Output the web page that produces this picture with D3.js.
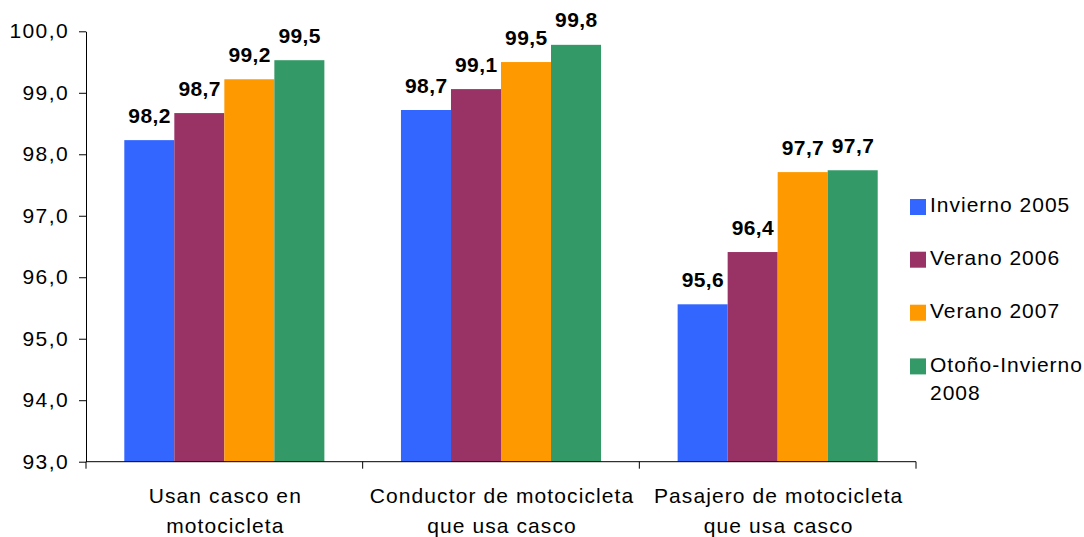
<!DOCTYPE html>
<html>
<head>
<meta charset="utf-8">
<script src="https://cdn.jsdelivr.net/npm/d3@7"></script>
<style>
  html, body { margin: 0; padding: 0; background: #fff; }
  svg { display: block; font-family: "Liberation Sans", Arial, sans-serif; }
</style>
</head>
<body>
<svg id="chart" width="1084" height="537"></svg>
<script>
// Categories (each label split into its two display lines)
const categories = ["usan", "conductor", "pasajero"];
const categoryLines = [
  ["Usan casco en", "motocicleta"],
  ["Conductor de motocicleta", "que usa casco"],
  ["Pasajero de motocicleta", "que usa casco"]
];

// Survey periods
const seriesNames = ["Invierno 2005", "Verano 2006", "Verano 2007", "Otoño-Invierno 2008"];
const legendLines = [["Invierno 2005"], ["Verano 2006"], ["Verano 2007"], ["Otoño-Invierno", "2008"]];
const seriesColors = ["#3366FF", "#993366", "#FF9900", "#339966"];

// Percentage of helmet use, one array per period (order follows categories)
const invierno2005 = [98.23, 98.72, 95.56];
const verano2006 = [98.67, 99.06, 96.41];
const verano2007 = [99.22, 99.50, 97.71];
const otonoInvierno2008 = [99.53, 99.78, 97.74];
const seriesValues = [invierno2005, verano2006, verano2007, otonoInvierno2008];

const yTicks = [93, 94, 95, 96, 97, 98, 99, 100];

const fmt = d => d.toFixed(1).replace(".", ",");

const svg = d3.select("#chart");

const y = d3.scaleLinear().domain([93, 100]).range([461.7, 31.3]);
const x = d3.scaleBand().domain(categories).range([86, 916]).paddingInner(0).paddingOuter(0);
const groupPad = 38.3;
const xInner = d3.scaleBand().domain(seriesNames)
  .range([groupPad, x.bandwidth() - groupPad]).padding(0);

// Bars
const groups = svg.append("g").selectAll("g")
  .data(categories)
  .join("g")
  .attr("transform", d => `translate(${x(d)},0)`);

groups.selectAll("rect")
  .data((c, i) => seriesNames.map((s, j) => ({ s, j, v: seriesValues[j][i] })))
  .join("rect")
  .attr("x", d => xInner(d.s))
  .attr("width", xInner.bandwidth())
  .attr("y", d => y(d.v))
  .attr("height", d => y(93) - y(d.v))
  .attr("fill", d => seriesColors[d.j]);

// Value labels
groups.selectAll("text.val")
  .data((c, i) => seriesNames.map((s, j) => ({ s, j, v: seriesValues[j][i] })))
  .join("text")
  .attr("class", "val")
  .attr("x", d => xInner(d.s) + xInner.bandwidth() / 2 + 0.3)
  .attr("y", d => y(d.v) - 17.5)
  .attr("text-anchor", "middle")
  .style("font-size", "21px")
  .style("font-weight", "bold")
  .style("letter-spacing", "0.4px")
  .attr("fill", "#000")
  .text(d => fmt(d.v));

// Y axis
const yAxis = svg.append("g")
  .attr("transform", "translate(86,0)")
  .call(d3.axisLeft(y).tickValues(yTicks).tickSize(7).tickSizeOuter(0).tickFormat(fmt));
yAxis.select(".domain").attr("stroke", "#000");
yAxis.selectAll(".tick line").attr("stroke", "#000");
yAxis.selectAll(".tick text")
  .attr("x", -17)
  .attr("dy", "0.3em")
  .style("font-size", "21px")
  .style("letter-spacing", "1.4px")
  .style("font-family", "'Liberation Sans', Arial, sans-serif")
  .attr("fill", "#000");

// X axis: baseline with ticks at the category boundaries
const xAxis = svg.append("g");
xAxis.append("line")
  .attr("x1", x.range()[0]).attr("x2", x.range()[1])
  .attr("y1", y(93)).attr("y2", y(93))
  .attr("stroke", "#000");
const bounds = categories.map(c => x(c)).concat([x.range()[1]]);
xAxis.selectAll("line.tick")
  .data(bounds)
  .join("line")
  .attr("class", "tick")
  .attr("x1", d => d).attr("x2", d => d)
  .attr("y1", y(93)).attr("y2", y(93) + 7)
  .attr("stroke", "#000");

xAxis.selectAll("text.cat")
  .data(categories)
  .join("text")
  .attr("class", "cat")
  .attr("text-anchor", "middle")
  .style("font-size", "21px")
  .style("letter-spacing", "1.1px")
  .attr("fill", "#000")
  .each(function (d, i) {
    const t = d3.select(this);
    categoryLines[i].forEach((line, k) => {
      t.append("tspan")
        .attr("x", x(d) + x.bandwidth() / 2 + 1)
        .attr("y", 502.7 + k * 30)
        .text(line);
    });
  });

// Legend
const legendBaselines = [212.3, 265, 318, 371.7];
const legend = svg.append("g").selectAll("g")
  .data(seriesNames)
  .join("g");
legend.append("rect")
  .attr("x", 910)
  .attr("y", (d, i) => legendBaselines[i] - 13.3)
  .attr("width", 16)
  .attr("height", 16)
  .attr("fill", (d, i) => seriesColors[i]);
legend.append("text")
  .style("font-size", "21px")
  .style("letter-spacing", "1px")
  .attr("fill", "#000")
  .each(function (d, i) {
    const t = d3.select(this);
    legendLines[i].forEach((line, k) => {
      t.append("tspan")
        .attr("x", 930)
        .attr("y", legendBaselines[i] + k * 28.3)
        .text(line);
    });
  });
</script>
</body>
</html>
